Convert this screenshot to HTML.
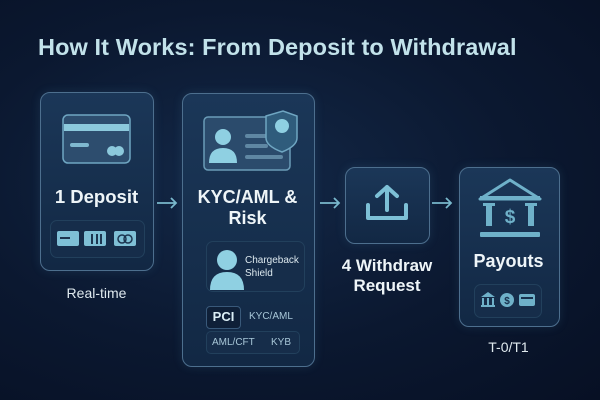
<!DOCTYPE html>
<html><head><meta charset="utf-8"><style>
body{margin:0;width:600px;height:400px;overflow:hidden;background:radial-gradient(ellipse at 40% 45%,#132847 0%,#0b1830 55%,#071024 100%);font-family:"Liberation Sans",sans-serif;color:#e8f2f6;position:relative}
.a{position:absolute}
.card{position:absolute;border:1.5px solid #4d6f8e;border-radius:10px;background:linear-gradient(180deg,#1b3758,#122844);box-shadow:0 0 10px rgba(90,160,200,.15)}
.t{position:absolute;text-align:center;font-weight:bold;color:#eef5f8}
.pill{position:absolute;border-radius:7px;background:#162d4a;border:1px solid #22405c}
</style></head><body>
<div class="a" style="left:38px;top:34px;font-size:23.5px;font-weight:bold;color:#c2e2ea;letter-spacing:.1px">How It Works: From Deposit to Withdrawal</div>

<div class="card" style="left:40px;top:92px;width:112px;height:177px"></div>
<svg class="a" style="left:62px;top:114px" width="70" height="52"><rect x="1" y="1" width="67" height="48" rx="5" fill="#2d4d6e" stroke="#6fa6c2" stroke-width="1.5"/><rect x="2" y="10" width="65" height="7" fill="#8cc9dc"/><rect x="8" y="29" width="19" height="4" rx="2" fill="#7fb8cf"/><circle cx="50" cy="37" r="5" fill="#8cc9dc"/><circle cx="57" cy="37" r="5" fill="#8cc9dc"/></svg>
<div class="t" style="left:40px;top:186px;width:113px;font-size:18.5px">1 Deposit</div>
<div class="pill" style="left:50px;top:220px;width:93px;height:36px"></div>
<svg class="a" style="left:56px;top:229px" width="82" height="20"><rect x="1" y="2" width="22" height="15" rx="2" fill="#7fc0d6"/><rect x="4" y="8" width="10" height="2" fill="#1c3550"/><rect x="28" y="2" width="22" height="15" rx="2" fill="#7fc0d6"/><rect x="35" y="5" width="2" height="10" fill="#1c3550"/><rect x="40" y="5" width="2" height="10" fill="#1c3550"/><rect x="44" y="5" width="2" height="10" fill="#1c3550"/><rect x="58" y="2" width="22" height="15" rx="2" fill="#7fc0d6"/><circle cx="66" cy="10" r="4" fill="none" stroke="#1c3550" stroke-width="1.5"/><circle cx="72" cy="10" r="4" fill="none" stroke="#1c3550" stroke-width="1.5"/></svg>
<div class="a" style="left:40px;top:285px;width:113px;text-align:center;font-size:14px;color:#dfe9ee">Real-time</div>

<div class="card" style="left:182px;top:93px;width:131px;height:272px"></div>
<svg class="a" style="left:203px;top:110px" width="96" height="64"><rect x="1" y="7" width="86" height="53" rx="4" fill="#2b4b6c" stroke="#6a9cb8" stroke-width="1.5"/><circle cx="20" cy="27" r="8" fill="#8fd0e2"/><path d="M6 53 Q6 38 20 38 Q34 38 34 53Z" fill="#8fd0e2"/><rect x="42" y="24" width="23" height="4" rx="2" fill="#5f87a3"/><rect x="42" y="34" width="23" height="4" rx="2" fill="#5f87a3"/><rect x="42" y="45" width="38" height="4" rx="2" fill="#5f87a3"/><path d="M63 6 L80 1 L94 6 L94 28 Q94 36 79 42 Q63 36 63 28Z" fill="#2f5c7c" stroke="#6fa6c2" stroke-width="1.5"/><circle cx="79" cy="16" r="7" fill="#8fd0e2"/></svg>
<div class="t" style="left:182px;top:187px;width:131px;font-size:18px;line-height:21px">KYC/AML &amp;<br>Risk</div>
<div class="pill" style="left:206px;top:241px;width:97px;height:49px"></div>
<svg class="a" style="left:208px;top:248px" width="40" height="42"><circle cx="19" cy="12" r="10" fill="#8fd0e2"/><path d="M2 42 Q2 24 19 24 Q36 24 36 42Z" fill="#8fd0e2"/></svg>
<div class="a" style="left:245px;top:254px;font-size:10px;line-height:13px;color:#dce8ee">Chargeback<br>Shield</div>
<div class="a" style="left:206px;top:306px;width:33px;height:21px;border:1px solid #39597a;border-radius:4px;background:#0f2038;font-weight:bold;font-size:13px;text-align:center;line-height:20px;color:#dceff6">PCI</div>
<div class="a" style="left:249px;top:311px;font-size:10px;color:#a8c7d8">KYC/AML</div>
<div class="pill" style="left:206px;top:331px;width:92px;height:21px;border-radius:5px"></div>
<div class="a" style="left:212px;top:337px;font-size:10px;color:#a8c7d8">AML/CFT</div>
<div class="a" style="left:271px;top:337px;font-size:10px;color:#a8c7d8">KYB</div>

<svg class="a" style="left:0;top:0" width="600" height="400"><g stroke="#79b8cc" stroke-width="1.8" fill="none"><path d="M157 203 H176 M171 198 L176 203 L171 208"/><path d="M320 203 H339 M334 198 L339 203 L334 208"/><path d="M432 203 H451 M446 198 L451 203 L446 208"/></g></svg>

<div class="card" style="left:345px;top:167px;width:83px;height:75px"></div>
<svg class="a" style="left:363px;top:183px" width="48" height="46"><g stroke="#7dc0d6" stroke-width="4" fill="none" stroke-linecap="round" stroke-linejoin="round"><path d="M24 27 V4 M14 13 L24 4 L34 13"/><path d="M5 22 V35 H43 V22"/></g></svg>
<div class="t" style="left:335px;top:256px;width:104px;font-size:17px;line-height:20px">4 Withdraw<br>Request</div>

<div class="card" style="left:459px;top:167px;width:99px;height:158px"></div>
<svg class="a" style="left:478px;top:177px" width="64" height="62"><path d="M32 3 L62 22 H2 Z" fill="none" stroke="#6fb1c9" stroke-width="3" stroke-linejoin="round"/><rect x="2" y="19" width="60" height="4" fill="#6fb1c9"/><rect x="8" y="27" width="6" height="22" fill="#6fb1c9"/><rect x="50" y="27" width="6" height="22" fill="#6fb1c9"/><rect x="5" y="26" width="12" height="3" fill="#6fb1c9"/><rect x="47" y="26" width="12" height="3" fill="#6fb1c9"/><text x="32" y="46" font-size="19" font-weight="bold" fill="#6fb1c9" text-anchor="middle" font-family="Liberation Sans">$</text><rect x="2" y="55" width="60" height="5" rx="1" fill="#6fb1c9"/></svg>
<div class="t" style="left:459px;top:251px;width:99px;font-size:18px">Payouts</div>
<div class="pill" style="left:474px;top:284px;width:66px;height:32px"></div>
<svg class="a" style="left:480px;top:291px" width="58" height="18"><path d="M1 6 L8 1 L15 6Z" fill="#6fb1c9"/><rect x="2" y="7" width="2" height="7" fill="#6fb1c9"/><rect x="7" y="7" width="2" height="7" fill="#6fb1c9"/><rect x="12" y="7" width="2" height="7" fill="#6fb1c9"/><rect x="1" y="14" width="14" height="2" fill="#6fb1c9"/><circle cx="27" cy="9" r="7" fill="#6fb1c9"/><text x="27" y="13" font-size="10" font-weight="bold" fill="#17304d" text-anchor="middle" font-family="Liberation Sans">$</text><rect x="39" y="3" width="16" height="12" rx="2" fill="#6fb1c9"/><rect x="41" y="6" width="12" height="2" fill="#17304d"/></svg>
<div class="a" style="left:459px;top:339px;width:99px;text-align:center;font-size:14px;color:#dfe9ee">T-0/T1</div>
</body></html>
